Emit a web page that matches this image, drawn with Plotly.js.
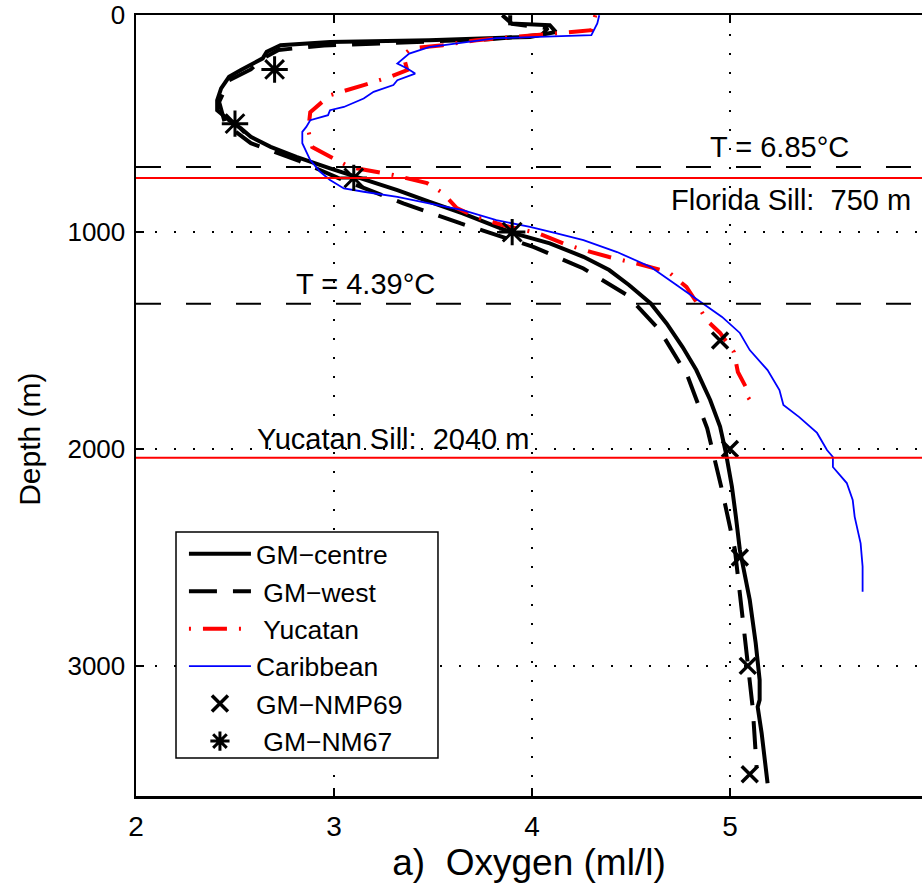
<!DOCTYPE html>
<html>
<head>
<meta charset="utf-8">
<script src="https://cdn.plot.ly/plotly-3.0.1.min.js"></script>
<style>html,body{margin:0;padding:0;background:#fff;overflow:hidden}</style>
</head>
<body>
<div id="chart" style="width:922px;height:888px"></div>
<script>
// ---- data ----
const centreDepth = [0, 38, 46, 77, 100, 115, 123, 138, 169, 199, 253, 284, 337, 392, 438, 484, 522, 561, 607, 653, 706, 745, 806, 860, 914, 975, 1006, 1052, 1114, 1175, 1244, 1329, 1421, 1529, 1636, 1774, 1897, 2020, 2174, 2312, 2465, 2696, 2895, 3065, 3157, 3189, 3310, 3541];
const centreOxy = [3.89, 3.89, 4.09, 4.12, 3.99, 3.48, 2.98, 2.73, 2.66, 2.64, 2.53, 2.47, 2.43, 2.41, 2.41, 2.47, 2.53, 2.58, 2.68, 2.81, 2.98, 3.11, 3.32, 3.48, 3.65, 3.82, 3.91, 4.09, 4.26, 4.39, 4.49, 4.60, 4.68, 4.76, 4.83, 4.90, 4.95, 4.98, 5.01, 5.03, 5.05, 5.10, 5.13, 5.15, 5.15, 5.14, 5.16, 5.19];

const westDepth = [0, 40, 60, 90, 110, 125, 140, 160, 200, 250, 300, 400, 500, 590, 670, 750, 868, 960, 1069, 1168, 1290, 1452, 1662, 1905, 2190, 2465, 2680, 2908, 3194, 3472];
const westOxy = [3.85, 3.90, 4.08, 4.05, 3.80, 3.35, 2.95, 2.72, 2.64, 2.58, 2.47, 2.42, 2.45, 2.58, 2.82, 3.02, 3.35, 3.64, 4.01, 4.26, 4.48, 4.645, 4.785, 4.885, 4.96, 5.025, 5.05, 5.08, 5.115, 5.135];

const yucDepth = [0, 69, 80, 92, 101, 115, 138, 150, 161, 184, 253, 285, 322, 345, 369, 447, 530, 608, 654, 700, 737, 774, 820, 889, 931, 970, 1005, 1060, 1092, 1115, 1145, 1184, 1253, 1322, 1405, 1465, 1553, 1645, 1714, 1760, 1811];
const yucOxy = [4.32, 4.30, 4.17, 4.03, 3.88, 3.72, 3.55, 3.42, 3.38, 3.35, 3.37, 3.28, 3.15, 3.07, 2.98, 2.88, 2.87, 2.89, 2.98, 3.08, 3.30, 3.47, 3.55, 3.62, 3.72, 3.86, 4.03, 4.18, 4.30, 4.39, 4.53, 4.69, 4.78, 4.83, 4.88, 4.95, 5.02, 5.04, 5.08, 5.09, 5.13];

const carDepth = [0, 38, 92, 106, 147, 177, 223, 246, 269, 300, 322, 353, 384, 423, 438, 461, 484, 515, 538, 590, 668, 722, 760, 799, 814, 838, 868, 899, 945, 976, 1005, 1037, 1092, 1161, 1244, 1322, 1391, 1465, 1544, 1636, 1728, 1797, 1853, 1926, 2005, 2037, 2083, 2157, 2235, 2313, 2435, 2542, 2658];
const carOxy = [4.34, 4.33, 4.30, 3.82, 3.48, 3.38, 3.32, 3.37, 3.41, 3.32, 3.30, 3.20, 3.15, 3.05, 2.98, 2.97, 2.88, 2.86, 2.84, 2.84, 2.88, 2.93, 2.98, 3.05, 3.15, 3.32, 3.48, 3.65, 3.82, 3.99, 4.12, 4.26, 4.43, 4.60, 4.73, 4.85, 4.96, 5.05, 5.10, 5.19, 5.25, 5.27, 5.35, 5.44, 5.49, 5.52, 5.52, 5.59, 5.62, 5.63, 5.66, 5.67, 5.67];

const nmp69Depth = [1500, 2000, 2500, 3000, 3500];
const nmp69Oxy = [4.95, 5.00, 5.05, 5.09, 5.10];

const nm67Depth = [250, 500, 750, 1000];
const nm67Oxy = [2.70, 2.50, 3.10, 3.90];

const seriesNames = ["GM\u2212centre", "\u00A0GM\u2212west", "\u00A0Yucatan", "Caribbean", "GM\u2212NMP69", "\u00A0GM\u2212NM67"];

const sillDepths = [750, 2040];          // Florida Sill, Yucatan Sill
const sillLabels = ["Florida Sill:\u00A0 750 m", "Yucatan Sill:\u00A0 2040 m"];
const isoDepths = [700, 1330];            // isotherms
const isoLabels = ["T = 6.85\u00B0C", "T = 4.39\u00B0C"];

const xTicks = [2, 3, 4, 5];
const yTicks = [0, 1000, 2000, 3000];

// ---- chart ----
const FONT = "Liberation Sans, Arial, Helvetica, sans-serif";

const traces = [
  {x: centreOxy, y: centreDepth, name: seriesNames[0], mode: "lines",
   line: {color: "#000", width: 4}},
  {x: westOxy, y: westDepth, name: seriesNames[1], mode: "lines",
   line: {color: "#000", width: 4, dash: "28px,16px"}},
  {x: yucOxy, y: yucDepth, name: seriesNames[2], mode: "lines",
   line: {color: "#ff0000", width: 4, dash: "2px,12px,24px,12px"}},
  {x: carOxy, y: carDepth, name: seriesNames[3], mode: "lines",
   line: {color: "#0000ff", width: 1.8}},
  {x: nmp69Oxy, y: nmp69Depth, name: seriesNames[4], mode: "markers",
   marker: {symbol: "x-thin-open", size: 16, color: "#000", line: {color: "#000", width: 3.5}}},
  {x: nm67Oxy, y: nm67Depth, name: seriesNames[5], mode: "markers",
   marker: {symbol: "asterisk-open", size: 22, color: "#000", line: {color: "#000", width: 3}}}
];

const shapes = [];
isoDepths.forEach(d => shapes.push({type: "line", xref: "paper", x0: 0, x1: 1, yref: "y", y0: d, y1: d,
  line: {color: "#000", width: 2, dash: "25px,25px"}}));
sillDepths.forEach(d => shapes.push({type: "line", xref: "paper", x0: 0, x1: 1, yref: "y", y0: d, y1: d,
  line: {color: "#ff0000", width: 2}}));
// legend frame
shapes.push({type: "rect", xref: "paper", yref: "paper", x0: 0.0509, x1: 0.3842, y0: 0.0487, y1: 0.338,
  fillcolor: "#fff", line: {color: "#000", width: 1.5}, layer: "above"});

const annFont = {family: FONT, size: 29, color: "#000"};
const annotations = [
  {text: isoLabels[0], x: 5.25, y: 608, xref: "x", yref: "y", showarrow: false, font: annFont},
  {text: sillLabels[0], x: 5.31, y: 853, xref: "x", yref: "y", showarrow: false, font: annFont},
  {text: isoLabels[1], x: 3.157, y: 1240, xref: "x", yref: "y", showarrow: false, font: annFont},
  {text: sillLabels[1], x: 3.30, y: 1954, xref: "x", yref: "y", showarrow: false, font: annFont},
  {text: "Depth (m)", xref: "paper", yref: "paper", x: 0, xshift: -106, xanchor: "center", yanchor: "middle",
   y: 0.456, textangle: -90, showarrow: false, font: {family: FONT, size: 30, color: "#000"}}
];

const layout = {
  width: 922, height: 888,
  margin: {l: 136, r: 0, t: 15, b: 92, pad: 0},
  paper_bgcolor: "#fff", plot_bgcolor: "#fff",
  font: {family: FONT, color: "#000"},
  showlegend: true,
  legend: {
    x: 0.061, y: 0.3405, xanchor: "left", yanchor: "top",
    bgcolor: "rgba(0,0,0,0)", borderwidth: 0,
    font: {family: FONT, size: 26.5, color: "#000"},
    itemwidth: 62, tracegroupgap: 0
  },
  xaxis: {
    range: [2, 5.97], tickvals: xTicks, ticktext: xTicks.map(String),
    ticks: "inside", ticklen: 8, tickwidth: 1.5, tickcolor: "#000",
    showline: true, linecolor: "#000", linewidth: 2.5, mirror: "ticks",
    showgrid: true, gridcolor: "#000", gridwidth: 1.5, griddash: "2px,17px",
    zeroline: false, tickfont: {family: FONT, size: 28, color: "#000"},
    ticklabelstandoff: 4,
    title: {text: "a)\u00A0 Oxygen (ml/l)", font: {family: FONT, size: 37, color: "#000"}, standoff: 0}
  },
  yaxis: {
    range: [3600, -1], tickvals: yTicks, ticktext: yTicks.map(String),
    ticks: "inside", ticklen: 8, tickwidth: 1.5, tickcolor: "#000",
    showline: true, linecolor: "#000", linewidth: 2.5, mirror: false,
    showgrid: true, gridcolor: "#000", gridwidth: 1.5, griddash: "2px,17px",
    zeroline: false, tickfont: {family: FONT, size: 26, color: "#000"},
    ticklabelstandoff: 3
  },
  shapes: shapes,
  annotations: annotations
};

Plotly.newPlot("chart", traces, layout, {displayModeBar: false, staticPlot: true});
</script>
</body>
</html>
